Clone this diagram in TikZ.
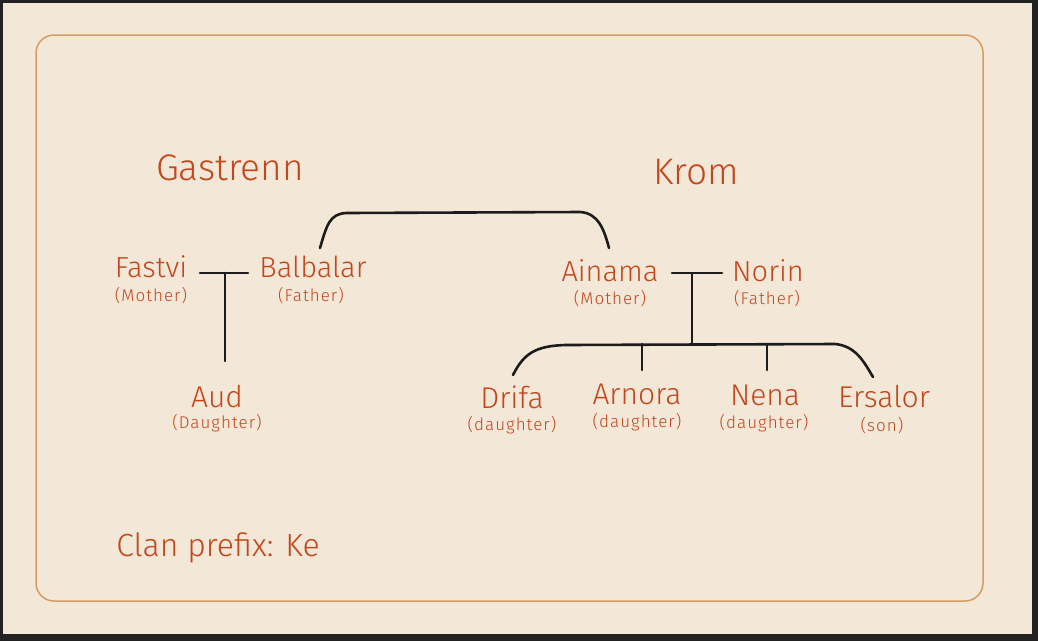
\documentclass[tikz,border=0pt]{standalone}
\usepackage{fontspec}
\setmainfont{Fira Sans}[UprightFont=* Light]
\usetikzlibrary{calc}
\definecolor{paper}{HTML}{F3E7D7}
\definecolor{framedark}{HTML}{222222}
\definecolor{ink}{HTML}{C4461B}
\definecolor{edge}{HTML}{D39C62}
\definecolor{linkc}{HTML}{1C1C1C}
\tikzset{
  person/.style={anchor=base,inner sep=0pt,text=ink,font=\fontsize{29}{29}\selectfont},
  kid/.style={anchor=base,inner sep=0pt,text=ink,font=\fontsize{30}{30}\selectfont},
  role/.style={anchor=base,inner sep=0pt,text=ink,font=\fontsize{17}{17}\selectfont\addfontfeatures{LetterSpace=6}},
  clan/.style={anchor=base,inner sep=0pt,text=ink,font=\fontsize{37}{37}\selectfont},
  note/.style={anchor=base,inner sep=0pt,text=ink,font=\fontsize{32}{32}\selectfont},
  link/.style={draw=linkc,line width=2.6pt,line cap=round},
  border/.style={draw=edge,line width=1.5pt,rounded corners=18pt}
}
\begin{document}
\begin{tikzpicture}[x=1pt,y=-1pt]
\path[use as bounding box] (0,0) rectangle (1038,641);
\fill[framedark] (0,0) rectangle (1038,641);
\fill[paper] (3,3) rectangle (1032,634);
\draw[border] (36,35) rectangle (983,601);

% clan headings
\node[clan] (gastrenn) at (230,180) {Gastrenn};
\node[clan] (krom) at (696,184) {Krom};

% Gastrenn family
\node[person] (fastvi) at (151,277) {Fastvi};
\node[role] (fastvirole) at (151,301) {(Mother)};
\node[person] (balbalar) at (313,277) {Balbalar};
\node[role] (balbalarrole) at (311,301) {(Father)};
\node[kid] (aud) at (217,407) {Aud};
\node[role] (audrole) at (217,428) {(Daughter)};

% Krom family
\node[person] (ainama) at (610,281) {Ainama};
\node[role] (ainamarole) at (610,304) {(Mother)};
\node[person] (norin) at (768,281) {Norin};
\node[role] (norinrole) at (767,304) {(Father)};

\node[kid] (drifa) at (512,408) {Drifa};
\node[role] (drifarole) at (512,430) {(daughter)};
\node[kid] (arnora) at (637,404) {Arnora};
\node[role] (arnorarole) at (637,427) {(daughter)};
\node[kid] (nena) at (765,405) {Nena};
\node[role] (nenarole) at (764,428) {(daughter)};
\node[kid] (ersalor) at (884,407) {Ersalor};
\node[role] (ersalorrole) at (882,431) {(son)};

\node[note] (prefix) at (218,556) {Clan prefix: Ke};

% junction coordinates
\coordinate (fbL) at (200,273);
\coordinate (fbR) at (248,273);
\coordinate (fbM) at (225,273);
\coordinate (audTop) at (225,361);
\coordinate (bbTop) at (320,248);
\coordinate (aiTop) at (609,248);
\coordinate (anL) at (672,273);
\coordinate (anR) at (722,273);
\coordinate (anM) at (692,273);
\coordinate (barM) at (692,344);
\coordinate (drTop) at (513,375);
\coordinate (erTop) at (873,377);
\coordinate (arBar) at (642,344);
\coordinate (arTop) at (642,370);
\coordinate (neBar) at (767,344);
\coordinate (neTop) at (767,370);

% connectors
\draw[link] (fbL) -- (fbR);
\draw[link] (fbM) -- (audTop);
\draw[link] (bbTop) .. controls (327,224) and (330,214) .. (346,213) -- (580,212) .. controls (598,213) and (604,229) .. (aiTop);
\draw[link] (anL) -- (anR);
\draw[link] (anM) -- (barM);
\draw[link] (drTop) .. controls (524,353) and (536,346) .. (565,345) -- (835,344) .. controls (856,346) and (864,362) .. (erTop);
\draw[link] (arBar) -- (arTop);
\draw[link] (neBar) -- (neTop);
\end{tikzpicture}
\end{document}
